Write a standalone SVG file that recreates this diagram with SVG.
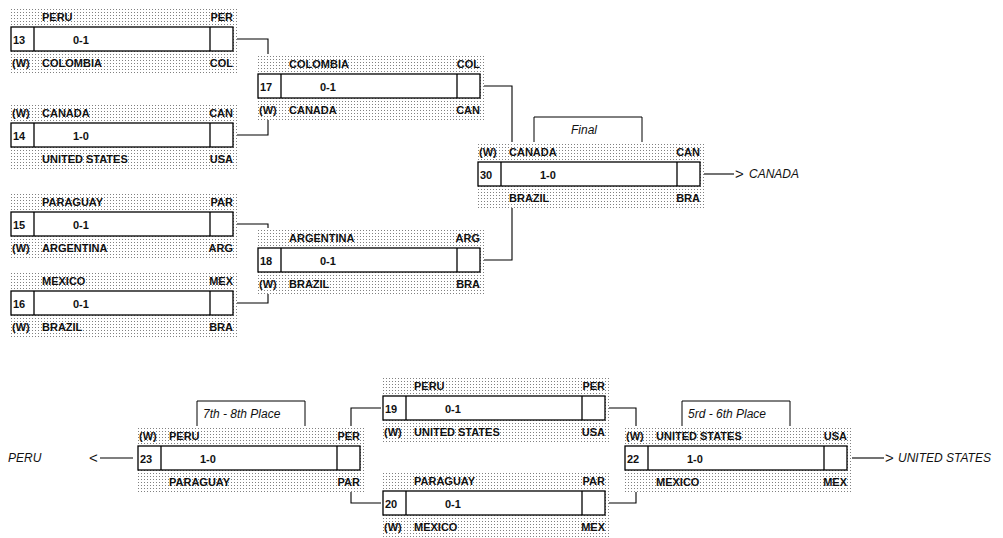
<svg xmlns="http://www.w3.org/2000/svg" width="1003" height="538" viewBox="0 0 1003 538">
<defs>
<pattern id="dots" width="3" height="3" patternUnits="userSpaceOnUse">
<rect width="3" height="3" fill="#fff"/>
<rect width="1" height="1" fill="#808080"/>
</pattern>
</defs>
<style>
.shade{fill:url(#dots)}
.box{fill:#fff;stroke:#000;stroke-width:1.3}
.div{stroke:#000;stroke-width:1.3}
.t{font-family:"Liberation Sans",Arial,sans-serif;font-weight:bold;font-size:11px;fill:#111}
.r{text-anchor:end}
.it{font-family:"Liberation Sans",Arial,sans-serif;font-style:italic;font-size:12px;fill:#111}
.title{fill:none;stroke:#000;stroke-width:1}
.conn{fill:none;stroke:#000;stroke-width:1.1}
.gt{font-family:"Liberation Sans",Arial,sans-serif;font-size:15px;fill:#111}
</style>
<rect width="1003" height="538" fill="#fff"/>

<g id="connectors">
<path class="conn" d="M233,39 H268 V54"/>
<path class="conn" d="M233,135 H268 V120"/>
<path class="conn" d="M233,224 H268 V228"/>
<path class="conn" d="M233,303 H268 V294"/>
<path class="conn" d="M480,86 H512 V142"/>
<path class="conn" d="M480,260 H512 V208"/>
<path class="conn" d="M383,408 H351 V426"/>
<path class="conn" d="M383,503 H351 V492"/>
<path class="conn" d="M605,408 H636 V426"/>
<path class="conn" d="M605,503 H636 V492"/>
<path class="conn" d="M703,174 H734"/>
<text class="gt" x="735" y="179">&gt;</text>
<path class="conn" d="M852,458 H884"/>
<text class="gt" x="885" y="463">&gt;</text>
<path class="conn" d="M100,458 H133"/>
<text class="gt" x="89" y="463">&lt;</text>
</g>

<g id="m13" transform="translate(11,27)">
<rect class="shade" x="-2" y="-20" width="228" height="66"/>
<rect class="box" width="222" height="24"/><line class="div" x1="23" y1="0" x2="23" y2="24"/><line class="div" x1="199" y1="0" x2="199" y2="24"/>
<text class="t" x="2" y="17">13</text><text class="t" x="62" y="17">0-1</text>
<text class="t" x="31" y="-6">PERU</text><text class="t r" x="222" y="-6">PER</text>
<text class="t" x="1" y="40">(W)</text><text class="t" x="31" y="40">COLOMBIA</text><text class="t r" x="222" y="40">COL</text>
</g>

<g id="m14" transform="translate(11,123)">
<rect class="shade" x="-2" y="-20" width="228" height="66"/>
<rect class="box" width="222" height="24"/><line class="div" x1="23" y1="0" x2="23" y2="24"/><line class="div" x1="199" y1="0" x2="199" y2="24"/>
<text class="t" x="2" y="17">14</text><text class="t" x="62" y="17">1-0</text>
<text class="t" x="1" y="-6">(W)</text><text class="t" x="31" y="-6">CANADA</text><text class="t r" x="222" y="-6">CAN</text>
<text class="t" x="31" y="40">UNITED STATES</text><text class="t r" x="222" y="40">USA</text>
</g>

<g id="m15" transform="translate(11,212)">
<rect class="shade" x="-2" y="-20" width="228" height="66"/>
<rect class="box" width="222" height="24"/><line class="div" x1="23" y1="0" x2="23" y2="24"/><line class="div" x1="199" y1="0" x2="199" y2="24"/>
<text class="t" x="2" y="17">15</text><text class="t" x="62" y="17">0-1</text>
<text class="t" x="31" y="-6">PARAGUAY</text><text class="t r" x="222" y="-6">PAR</text>
<text class="t" x="1" y="40">(W)</text><text class="t" x="31" y="40">ARGENTINA</text><text class="t r" x="222" y="40">ARG</text>
</g>

<g id="m16" transform="translate(11,291)">
<rect class="shade" x="-2" y="-20" width="228" height="66"/>
<rect class="box" width="222" height="24"/><line class="div" x1="23" y1="0" x2="23" y2="24"/><line class="div" x1="199" y1="0" x2="199" y2="24"/>
<text class="t" x="2" y="17">16</text><text class="t" x="62" y="17">0-1</text>
<text class="t" x="31" y="-6">MEXICO</text><text class="t r" x="222" y="-6">MEX</text>
<text class="t" x="1" y="40">(W)</text><text class="t" x="31" y="40">BRAZIL</text><text class="t r" x="222" y="40">BRA</text>
</g>

<g id="m17" transform="translate(258,74)">
<rect class="shade" x="-2" y="-20" width="228" height="66"/>
<rect class="box" width="222" height="24"/><line class="div" x1="23" y1="0" x2="23" y2="24"/><line class="div" x1="199" y1="0" x2="199" y2="24"/>
<text class="t" x="2" y="17">17</text><text class="t" x="62" y="17">0-1</text>
<text class="t" x="31" y="-6">COLOMBIA</text><text class="t r" x="222" y="-6">COL</text>
<text class="t" x="1" y="40">(W)</text><text class="t" x="31" y="40">CANADA</text><text class="t r" x="222" y="40">CAN</text>
</g>

<g id="m18" transform="translate(258,248)">
<rect class="shade" x="-2" y="-20" width="228" height="66"/>
<rect class="box" width="222" height="24"/><line class="div" x1="23" y1="0" x2="23" y2="24"/><line class="div" x1="199" y1="0" x2="199" y2="24"/>
<text class="t" x="2" y="17">18</text><text class="t" x="62" y="17">0-1</text>
<text class="t" x="31" y="-6">ARGENTINA</text><text class="t r" x="222" y="-6">ARG</text>
<text class="t" x="1" y="40">(W)</text><text class="t" x="31" y="40">BRAZIL</text><text class="t r" x="222" y="40">BRA</text>
</g>

<g id="m30" transform="translate(478,162)">
<path class="title" d="M56,-20 V-45 H164 V-20"/>
<text class="it" x="93" y="-28">Final</text>
<rect class="shade" x="-2" y="-20" width="228" height="66"/>
<rect class="box" width="222" height="24"/><line class="div" x1="23" y1="0" x2="23" y2="24"/><line class="div" x1="199" y1="0" x2="199" y2="24"/>
<text class="t" x="2" y="17">30</text><text class="t" x="62" y="17">1-0</text>
<text class="t" x="1" y="-6">(W)</text><text class="t" x="31" y="-6">CANADA</text><text class="t r" x="222" y="-6">CAN</text>
<text class="t" x="31" y="40">BRAZIL</text><text class="t r" x="222" y="40">BRA</text>
</g>
<g id="res-final"><text class="it" x="749" y="178">CANADA</text></g>

<g id="m19" transform="translate(383,396)">
<rect class="shade" x="-2" y="-20" width="228" height="66"/>
<rect class="box" width="222" height="24"/><line class="div" x1="23" y1="0" x2="23" y2="24"/><line class="div" x1="199" y1="0" x2="199" y2="24"/>
<text class="t" x="2" y="17">19</text><text class="t" x="62" y="17">0-1</text>
<text class="t" x="31" y="-6">PERU</text><text class="t r" x="222" y="-6">PER</text>
<text class="t" x="1" y="40">(W)</text><text class="t" x="31" y="40">UNITED STATES</text><text class="t r" x="222" y="40">USA</text>
</g>

<g id="m20" transform="translate(383,491)">
<rect class="shade" x="-2" y="-20" width="228" height="66"/>
<rect class="box" width="222" height="24"/><line class="div" x1="23" y1="0" x2="23" y2="24"/><line class="div" x1="199" y1="0" x2="199" y2="24"/>
<text class="t" x="2" y="17">20</text><text class="t" x="62" y="17">0-1</text>
<text class="t" x="31" y="-6">PARAGUAY</text><text class="t r" x="222" y="-6">PAR</text>
<text class="t" x="1" y="40">(W)</text><text class="t" x="31" y="40">MEXICO</text><text class="t r" x="222" y="40">MEX</text>
</g>

<g id="m23" transform="translate(138,446)">
<path class="title" d="M59,-20 V-45 H167 V-20"/>
<text class="it" x="65" y="-28">7th - 8th Place</text>
<rect class="shade" x="-2" y="-20" width="228" height="66"/>
<rect class="box" width="222" height="24"/><line class="div" x1="23" y1="0" x2="23" y2="24"/><line class="div" x1="199" y1="0" x2="199" y2="24"/>
<text class="t" x="2" y="17">23</text><text class="t" x="62" y="17">1-0</text>
<text class="t" x="1" y="-6">(W)</text><text class="t" x="31" y="-6">PERU</text><text class="t r" x="222" y="-6">PER</text>
<text class="t" x="31" y="40">PARAGUAY</text><text class="t r" x="222" y="40">PAR</text>
</g>
<g id="res-78"><text class="it" x="8" y="462">PERU</text></g>

<g id="m22" transform="translate(625,446)">
<path class="title" d="M57,-20 V-45 H165 V-20"/>
<text class="it" x="63" y="-28">5rd - 6th Place</text>
<rect class="shade" x="-2" y="-20" width="228" height="66"/>
<rect class="box" width="222" height="24"/><line class="div" x1="23" y1="0" x2="23" y2="24"/><line class="div" x1="199" y1="0" x2="199" y2="24"/>
<text class="t" x="2" y="17">22</text><text class="t" x="62" y="17">1-0</text>
<text class="t" x="1" y="-6">(W)</text><text class="t" x="31" y="-6">UNITED STATES</text><text class="t r" x="222" y="-6">USA</text>
<text class="t" x="31" y="40">MEXICO</text><text class="t r" x="222" y="40">MEX</text>
</g>
<g id="res-56"><text class="it" x="898" y="462">UNITED STATES</text></g>
</svg>
